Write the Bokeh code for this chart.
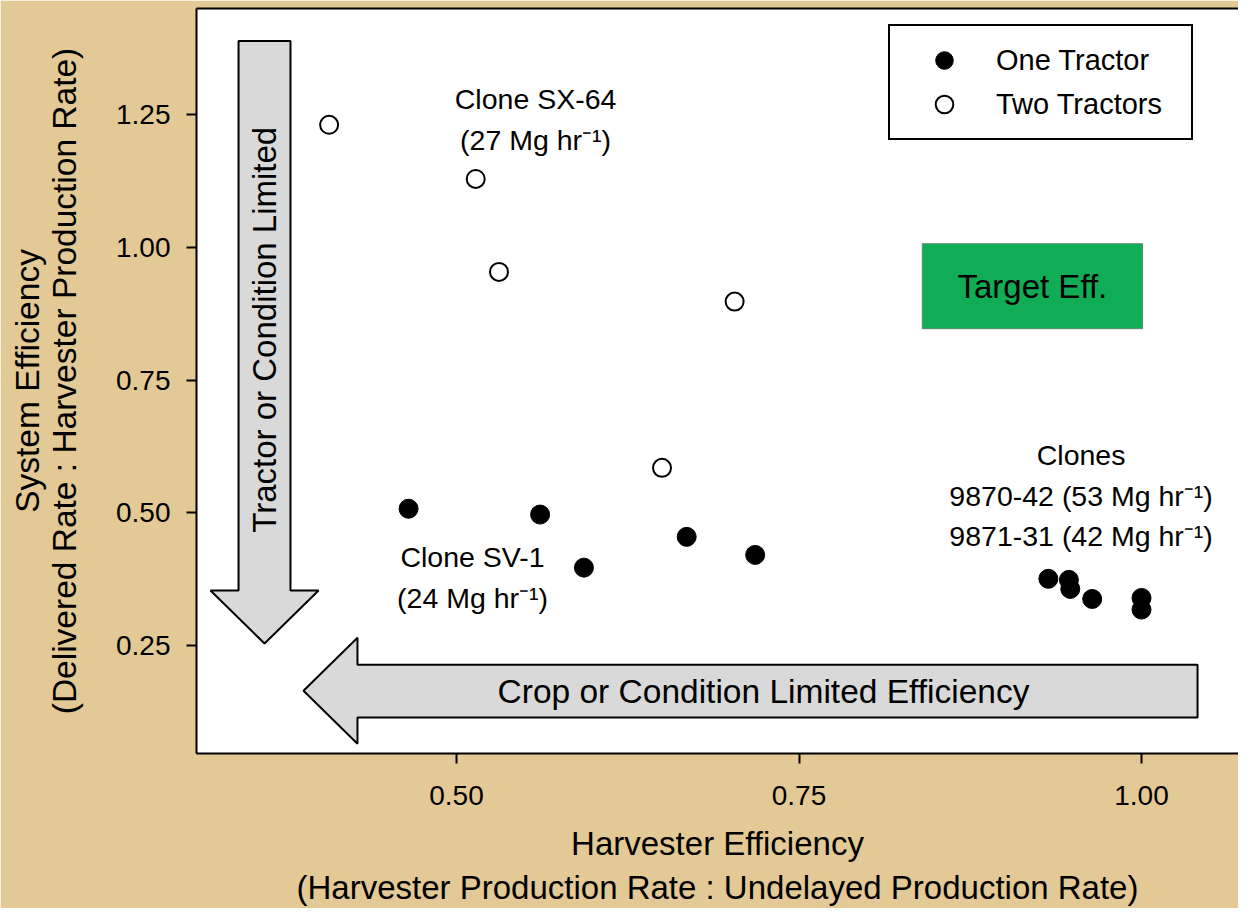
from bokeh.plotting import figure
from bokeh.models import Range1d, FixedTicker, LinearAxis, Legend, LegendItem
from bokeh.core.properties import value
from bokeh.embed import file_html
from bokeh.resources import INLINE

# ---- data ----
one_tractor_x = [0.465, 0.561, 0.593, 0.668, 0.718, 0.932, 0.947, 0.948, 0.964, 1.000, 1.000]
one_tractor_y = [0.508, 0.497, 0.397, 0.455, 0.421, 0.376, 0.374, 0.357, 0.338, 0.340, 0.318]
two_tractor_x = [0.407, 0.514, 0.531, 0.703, 0.650]
two_tractor_y = [1.231, 1.129, 0.954, 0.898, 0.585]

x_ticks = [0.50, 0.75, 1.00]
x_tick_labels = ["0.50", "0.75", "1.00"]
y_ticks = [0.25, 0.50, 0.75, 1.00, 1.25]
y_tick_labels = ["0.25", "0.50", "0.75", "1.00", "1.25"]

series_labels = ["One Tractor", "Two Tractors"]

note_text = ["Clone SX-64\n(27 Mg hr\u207b\u00b9)",
             "Clone SV-1\n(24 Mg hr\u207b\u00b9)",
             "Clones\n9870-42 (53 Mg hr\u207b\u00b9)\n9871-31 (42 Mg hr\u207b\u00b9)"]
note_x = [0.5577, 0.5117, 0.9559]
note_y = [1.2415, 0.378, 0.5325]

target_label = "Target Eff."
target_box = dict(left=0.840, right=1.0007, bottom=0.847, top=1.007)

v_arrow_label = "Tractor or Condition Limited"
h_arrow_label = "Crop or Condition Limited Efficiency"

# arrow geometry (data units)
v_shaft_x = (0.3409, 0.3788)
v_head_x = (0.3204, 0.3993)
v_top, v_head_base, v_tip = 1.389, 0.354, 0.254
h_shaft_y = (0.1148, 0.214)
h_head_y = (0.0654, 0.265)
h_right, h_head_base, h_tip = 1.0409, 0.4277, 0.3883

FONT = "Liberation Sans"
PARCH = "#e3c995"

p = figure(frame_width=1042, frame_height=745,
           x_range=Range1d(0.3102, 1.0708), y_range=Range1d(0.047, 1.450),
           output_backend="svg", toolbar_location=None,
           min_border_left=196, min_border_right=0,
           min_border_top=8, min_border_bottom=154)

p.background_fill_color = "white"
p.border_fill_color = PARCH
p.outline_line_color = None
p.grid.visible = False

# axes
p.xaxis.ticker = FixedTicker(ticks=x_ticks)
p.xaxis.major_label_overrides = dict(zip(x_ticks, x_tick_labels))
p.yaxis.ticker = FixedTicker(ticks=y_ticks)
p.yaxis.major_label_overrides = dict(zip(y_ticks, y_tick_labels))

for ax in p.axis:
    ax.axis_line_color = "black"
    ax.axis_line_width = 2
    ax.major_tick_line_color = "black"
    ax.major_tick_line_width = 2
    ax.major_tick_out = 10
    ax.major_tick_in = 0
    ax.minor_tick_line_color = None
    ax.major_label_text_color = "black"
    ax.axis_label_text_color = "black"
    ax.axis_label_text_font_style = "normal"

p.yaxis.major_label_text_font = FONT
p.yaxis.major_label_text_font_size = "28px"
p.yaxis.major_label_standoff = 16
p.yaxis.axis_label = "System Efficiency\n(Delivered Rate : Harvester Production Rate)"
p.yaxis.axis_label_text_font = FONT
p.yaxis.axis_label_text_font_size = "33.5px"
p.yaxis.axis_label_text_line_height = 1.0
p.yaxis.axis_label_standoff = 30

p.xaxis.major_label_text_font = FONT
p.xaxis.major_label_text_font_size = "28px"
p.xaxis.major_label_standoff = 22
p.xaxis.axis_label = "Harvester Efficiency\n(Harvester Production Rate : Undelayed Production Rate)"
p.xaxis.axis_label_text_font = FONT
p.xaxis.axis_label_text_font_size = "33px"
p.xaxis.axis_label_text_line_height = 1.2
p.xaxis.axis_label_standoff = 17

top_axis = LinearAxis(ticker=FixedTicker(ticks=[]), axis_line_color="black", axis_line_width=2,
                      major_tick_out=0, major_tick_in=0, minor_tick_line_color=None,
                      major_label_text_font_size="0px", major_label_standoff=0)
p.add_layout(top_axis, "above")

# arrows
v_xs = [v_shaft_x[0], v_shaft_x[1], v_shaft_x[1], v_head_x[1], sum(v_head_x) / 2, v_head_x[0], v_shaft_x[0]]
v_ys = [v_top, v_top, v_head_base, v_head_base, v_tip, v_head_base, v_head_base]
p.patch(v_xs, v_ys, fill_color="#d9d9d9", line_color="black", line_width=2)

h_xs = [h_right, h_head_base, h_head_base, h_tip, h_head_base, h_head_base, h_right]
h_ys = [h_shaft_y[1], h_shaft_y[1], h_head_y[1], sum(h_head_y) / 2, h_head_y[0], h_shaft_y[0], h_shaft_y[0]]
p.patch(h_xs, h_ys, fill_color="#d9d9d9", line_color="black", line_width=2)

p.text(x=[sum(v_shaft_x) / 2], y=[0.845], text=[v_arrow_label], angle=1.5707963,
       text_align="center", text_baseline="middle", text_font=value(FONT),
       text_font_size="33px", text_color="black")
p.text(x=[0.7241], y=[sum(h_shaft_y) / 2], text=[h_arrow_label],
       text_align="center", text_baseline="middle", text_font=value(FONT),
       text_font_size="33.5px", text_color="black")

# target box
p.quad(**target_box, fill_color="#10ad56", line_color="#5b8a6b", line_width=1)
p.text(x=[(target_box["left"] + target_box["right"]) / 2], y=[(target_box["bottom"] + target_box["top"]) / 2],
       text=[target_label], text_align="center", text_baseline="middle",
       text_font=value(FONT), text_font_size="33px", text_color="black")

# annotations
p.text(x=note_x, y=note_y, text=note_text, text_align="center", text_baseline="middle",
       text_font=value(FONT), text_font_size="28.5px", text_color="black", text_line_height=1.27)

# points
r_one = p.scatter(one_tractor_x, one_tractor_y, marker="circle", size=19,
                  fill_color="black", line_color="black", line_width=1)
r_two = p.scatter(two_tractor_x, two_tractor_y, marker="circle", size=18,
                  fill_color="white", line_color="black", line_width=2)

legend = Legend(items=[LegendItem(label=series_labels[0], renderers=[r_one]),
                       LegendItem(label=series_labels[1], renderers=[r_two])],
                location=(692, 613), padding=12, spacing=0,
                glyph_width=84, glyph_height=44, label_height=44, label_width=183,
                label_standoff=10, margin=0,
                border_line_color="black", border_line_width=2, border_line_alpha=1.0,
                background_fill_color="white", background_fill_alpha=1.0,
                label_text_font=FONT, label_text_font_size="29px", label_text_color="black")
p.add_layout(legend)

open("out.html", "w").write(file_html(p, INLINE))
